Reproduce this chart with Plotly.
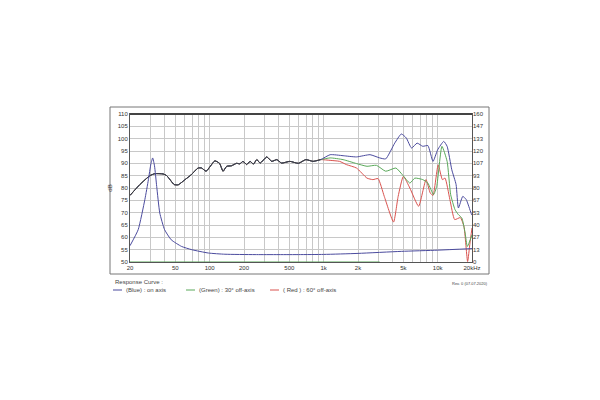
import math
import plotly.graph_objects as go

# ---- data ----
freq_common = [20, 24.4, 29.9, 33, 39, 42, 48.8, 53, 60.8, 69, 79, 85, 93, 111, 122, 131, 141, 155, 172,
               184, 196, 211, 226, 242, 259, 277, 317, 350, 388, 427, 505, 600, 697, 808, 940]
spl_common = [77, 81.4, 85, 85.8, 85.7, 85, 81.4, 81.3, 83.4, 85.4, 88.1, 88.1, 86.8, 91, 90, 86.8, 88.8, 89, 90,
              89.8, 90.8, 89.5, 90.8, 89.7, 91.5, 90.1, 92.6, 90.8, 91.5, 90.1, 90.8, 90, 91.5, 90.8, 91.5]

freq_blue_hi = [1140, 1480, 1940, 2550, 3100, 3500, 4200, 4800, 5300, 5900, 6600, 7400, 8200, 9100, 10000,
                11300, 12100, 13300, 14500, 15200, 16600, 17800, 19600, 20000]
spl_blue_hi = [93.5, 93.1, 92.6, 93.5, 92.2, 91.8, 98.2, 101.9, 100.3, 96.2, 98.2, 96.9, 97.2, 90.8, 95.5,
               98.9, 96.9, 87.4, 81.4, 71.9, 76.6, 75.3, 69.9, 69]

freq_green_hi = [1140, 1480, 1940, 2400, 2900, 3500, 4300, 4900, 5700, 6300, 7400, 8200, 9200, 9800, 10900,
                 12100, 13000, 14200, 15200, 16300, 17400, 18200, 20000]
spl_green_hi = [92.2, 91.5, 89.9, 88.8, 89.2, 86.8, 88.1, 85.4, 82, 84, 83.4, 82, 77.3, 80.6, 96.9,
                90.8, 77.3, 71.2, 69.2, 67.8, 61.8, 56.3, 61]

freq_red_hi = [1140, 1380, 1580, 1940, 2400, 2700, 3000, 3400, 4100, 4500, 5000, 5700, 6800, 7900, 8600, 9100,
               10100, 11000, 11600, 12800, 14100, 15800, 17000, 18300, 19200, 20000]
spl_red_hi = [91.2, 90.8, 89.5, 88.1, 84, 83.4, 83.8, 76.6, 66.2, 76.6, 84.7, 80, 72.6, 83.4, 78, 77,
              89.4, 83.4, 84, 75.3, 67.2, 68, 64.4, 50.2, 57.7, 63.8]

freq_imp = [20, 23.6, 27, 29, 30.5, 31.6, 32.8, 34.3, 36.5, 40.2, 46, 56.7, 69.7, 97.5, 136, 250, 600,
            1000, 2000, 4800, 10000, 20000]
imp = [17.6, 35, 67.5, 89, 106, 112.5, 104, 81.6, 53, 35, 24, 16.8, 13.3, 9.7, 8.4, 8, 8,
       8.2, 9.3, 11.5, 12.8, 14.5]

freq_green_base = [20, 3100]
spl_green_base = [50, 50]

x_grid = [20, 30, 40, 50, 60, 70, 80, 90, 100, 200, 300, 400, 500, 600, 700, 800, 900,
          1000, 2000, 3000, 4000, 5000, 6000, 7000, 8000, 9000, 10000, 20000]
x_labels = {20: "20", 50: "50", 100: "100", 200: "200", 500: "500", 1000: "1k", 2000: "2k",
            5000: "5k", 10000: "10k", 20000: "20kHz"}
y_left_ticks = list(range(50, 111, 5))
y_right_labels = ["0", "13", "27", "40", "53", "67", "80", "93", "107", "120", "133", "147", "160"]

BLUE = "#4b4b9e"
GREEN = "#5aa95a"
RED = "#d9534f"

fig = go.Figure()
fig.add_trace(go.Scatter(x=freq_green_base, y=spl_green_base, mode="lines",
                         line=dict(color=GREEN, width=1.2), showlegend=False))
fig.add_trace(go.Scatter(x=freq_imp, y=imp, mode="lines", yaxis="y2",
                         line=dict(color=BLUE, width=1, shape="spline", smoothing=0.5), showlegend=False))
fig.add_trace(go.Scatter(x=freq_common + freq_red_hi, y=spl_common + spl_red_hi, mode="lines",
                         line=dict(color=RED, width=1, shape="spline", smoothing=0.5), showlegend=False))
fig.add_trace(go.Scatter(x=freq_common + freq_green_hi, y=spl_common + spl_green_hi, mode="lines",
                         line=dict(color=GREEN, width=1, shape="spline", smoothing=0.5), showlegend=False))
fig.add_trace(go.Scatter(x=freq_common + freq_blue_hi, y=spl_common + spl_blue_hi, mode="lines",
                         line=dict(color=BLUE, width=1, shape="spline", smoothing=0.5), showlegend=False))
fig.add_trace(go.Scatter(x=freq_common, y=spl_common, mode="lines",
                         line=dict(color="#3a3a3a", width=1, shape="spline", smoothing=0.5), showlegend=False))

# page has 8px body margin; plot area target (page px): x 130-472, y 114-262
OFF = 8
L, R, T, B = 130 - OFF, 472 - OFF, 114 - OFF, 262 - OFF

fig.update_layout(
    width=600, height=400,
    margin=dict(l=L, r=600 - R, t=T, b=400 - B),
    paper_bgcolor="white", plot_bgcolor="white",
    font=dict(family="Liberation Sans, Arial", size=6, color="#333"),
    xaxis=dict(type="log", range=[math.log10(20), math.log10(20000)],
               tickvals=x_grid, ticktext=[x_labels.get(v, "") for v in x_grid],
               showgrid=True, gridcolor="#c8c8c8", gridwidth=1,
               showline=True, linecolor="#555", mirror=True, ticks="",
               tickfont=dict(size=6), zeroline=False),
    yaxis=dict(range=[50, 110], tickvals=y_left_ticks, showgrid=True, gridcolor="#c8c8c8",
               showline=True, linecolor="#555", mirror=True, ticks="", tickfont=dict(size=6),
               zeroline=False, title=dict(text="dB", font=dict(size=6), standoff=4)),
    yaxis2=dict(range=[0, 160], overlaying="y", side="right",
                tickvals=[i * 160 / 12 for i in range(13)], ticktext=y_right_labels,
                showgrid=False, ticks="", tickfont=dict(size=6), zeroline=False),
    showlegend=False,
)


def px(x):
    return (x - 130) / 342


def py(y):
    return (262 - y) / 148


fig.add_shape(type="rect", xref="paper", yref="paper", x0=px(110), x1=px(489), y0=py(274), y1=py(107),
              line=dict(color="#777", width=1), layer="below")
fig.add_shape(type="line", xref="paper", yref="paper", x0=0, x1=1, y0=1, y1=1,
              line=dict(color="#444", width=2))

fig.add_annotation(xref="paper", yref="paper", x=px(113), y=py(282), text="Response Curve :",
                   showarrow=False, xanchor="left", yanchor="middle", font=dict(size=6, color="#444"))
fig.add_annotation(xref="paper", yref="paper", x=px(490), y=py(283), text="Rev. 0 (07.07.2020)",
                   showarrow=False, xanchor="right", yanchor="middle", font=dict(size=4, color="#444"))

legend_items = [(113, BLUE, "(Blue) : on axis"), (186, GREEN, "(Green) : 30\u00b0 off-axis"),
                (270, RED, "( Red ) : 60\u00b0 off-axis")]
for lx, col, txt in legend_items:
    fig.add_shape(type="line", xref="paper", yref="paper", x0=px(lx), x1=px(lx + 9), y0=py(290), y1=py(290),
                  line=dict(color=col, width=1))
    fig.add_annotation(xref="paper", yref="paper", x=px(lx + 11), y=py(290), text=txt,
                       showarrow=False, xanchor="left", yanchor="middle", font=dict(size=6, color="#444"))

fig.write_html("out.html")
